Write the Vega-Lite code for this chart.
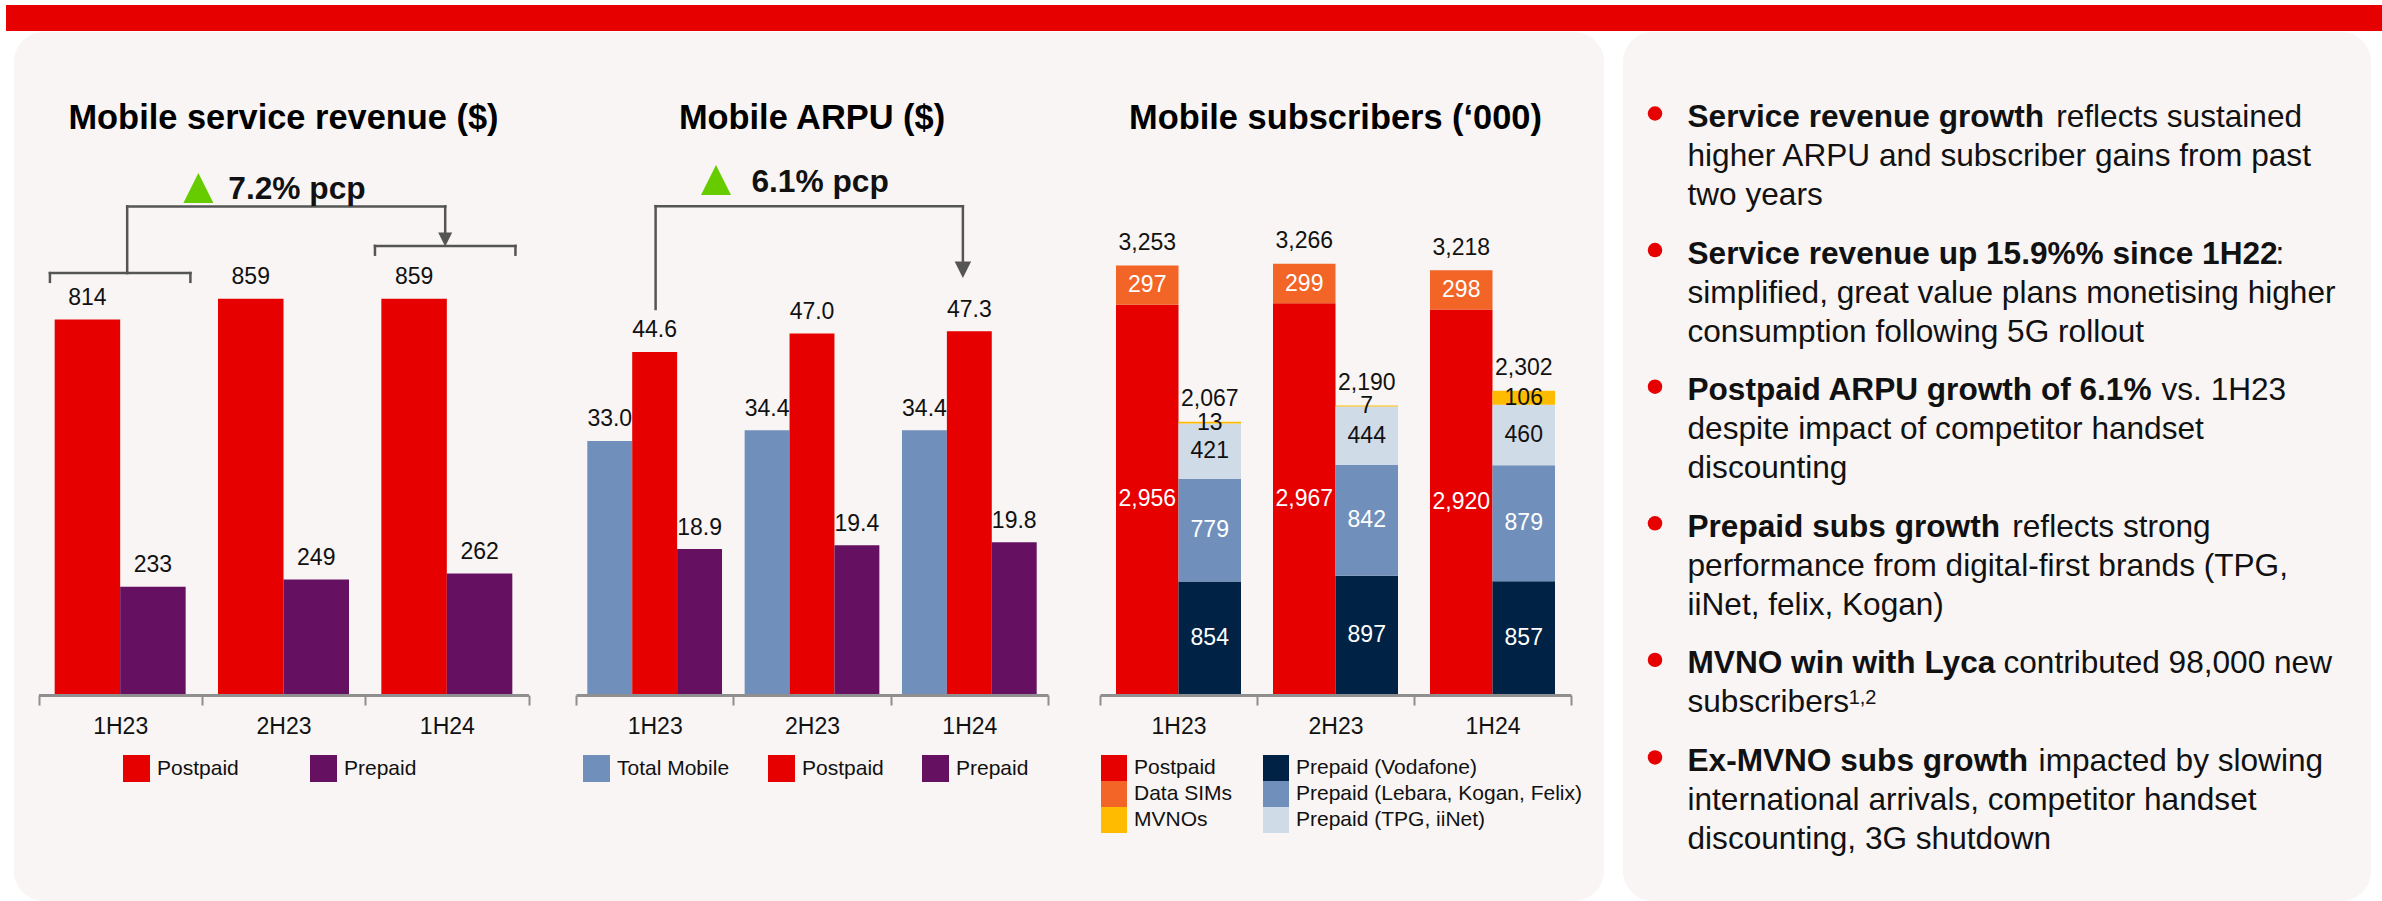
{
  "$schema": "https://vega.github.io/schema/vega-lite/v6.json",
  "background": "#FFFFFF",
  "padding": {"left": 5, "top": 4, "right": 0, "bottom": 2},
  "config": {
    "view": {"stroke": null},
    "font": "Liberation Sans",
    "text": {"font": "Liberation Sans"},
    "axis": {"labelFont": "Liberation Sans", "grid": false},
    "legend": {"labelFont": "Liberation Sans"}
  },
  "datasets": {
    "rev": [
      {"period": "1H23", "type": "Postpaid", "value": 814},
      {"period": "1H23", "type": "Prepaid", "value": 233},
      {"period": "2H23", "type": "Postpaid", "value": 859},
      {"period": "2H23", "type": "Prepaid", "value": 249},
      {"period": "1H24", "type": "Postpaid", "value": 859},
      {"period": "1H24", "type": "Prepaid", "value": 262}
    ],
    "arpu": [
      {"period": "1H23", "type": "Total Mobile", "value": 33.0},
      {"period": "1H23", "type": "Postpaid", "value": 44.6},
      {"period": "1H23", "type": "Prepaid", "value": 18.9},
      {"period": "2H23", "type": "Total Mobile", "value": 34.4},
      {"period": "2H23", "type": "Postpaid", "value": 47.0},
      {"period": "2H23", "type": "Prepaid", "value": 19.4},
      {"period": "1H24", "type": "Total Mobile", "value": 34.4},
      {"period": "1H24", "type": "Postpaid", "value": 47.3},
      {"period": "1H24", "type": "Prepaid", "value": 19.8}
    ],
    "subs": [
      {"period": "1H23", "group": "Postpaid and data SIMs", "segment": "Postpaid", "rank": 1, "value": 2956},
      {"period": "1H23", "group": "Postpaid and data SIMs", "segment": "Data SIMs", "rank": 2, "value": 297},
      {"period": "1H23", "group": "Prepaid and MVNOs", "segment": "Prepaid (Vodafone)", "rank": 1, "value": 854},
      {"period": "1H23", "group": "Prepaid and MVNOs", "segment": "Prepaid (Lebara, Kogan, Felix)", "rank": 2, "value": 779},
      {"period": "1H23", "group": "Prepaid and MVNOs", "segment": "Prepaid (TPG, iiNet)", "rank": 3, "value": 421},
      {"period": "1H23", "group": "Prepaid and MVNOs", "segment": "MVNOs", "rank": 4, "value": 13},
      {"period": "2H23", "group": "Postpaid and data SIMs", "segment": "Postpaid", "rank": 1, "value": 2967},
      {"period": "2H23", "group": "Postpaid and data SIMs", "segment": "Data SIMs", "rank": 2, "value": 299},
      {"period": "2H23", "group": "Prepaid and MVNOs", "segment": "Prepaid (Vodafone)", "rank": 1, "value": 897},
      {"period": "2H23", "group": "Prepaid and MVNOs", "segment": "Prepaid (Lebara, Kogan, Felix)", "rank": 2, "value": 842},
      {"period": "2H23", "group": "Prepaid and MVNOs", "segment": "Prepaid (TPG, iiNet)", "rank": 3, "value": 444},
      {"period": "2H23", "group": "Prepaid and MVNOs", "segment": "MVNOs", "rank": 4, "value": 7},
      {"period": "1H24", "group": "Postpaid and data SIMs", "segment": "Postpaid", "rank": 1, "value": 2920},
      {"period": "1H24", "group": "Postpaid and data SIMs", "segment": "Data SIMs", "rank": 2, "value": 298},
      {"period": "1H24", "group": "Prepaid and MVNOs", "segment": "Prepaid (Vodafone)", "rank": 1, "value": 857},
      {"period": "1H24", "group": "Prepaid and MVNOs", "segment": "Prepaid (Lebara, Kogan, Felix)", "rank": 2, "value": 879},
      {"period": "1H24", "group": "Prepaid and MVNOs", "segment": "Prepaid (TPG, iiNet)", "rank": 3, "value": 460},
      {"period": "1H24", "group": "Prepaid and MVNOs", "segment": "MVNOs", "rank": 4, "value": 106}
    ],
    "notes": [
      {"key": "1.1", "bold": "Service revenue growth", "normal": "\u200b\u00a0\u00a0\u00a0\u00a0\u00a0\u00a0\u00a0\u00a0\u00a0\u00a0\u00a0\u00a0\u00a0\u00a0\u00a0\u00a0\u00a0\u00a0\u00a0\u00a0\u00a0\u00a0\u00a0\u00a0\u00a0\u00a0\u00a0\u00a0\u00a0\u00a0\u00a0\u00a0\u00a0\u00a0\u00a0\u00a0\u00a0\u00a0\u00a0\u00a0\u00a0\u00a0reflects sustained"},
      {"key": "1.2", "bold": "", "normal": "higher ARPU and subscriber gains from past"},
      {"key": "1.3", "bold": "", "normal": "two years"},
      {"key": "2.1", "bold": "Service revenue up 15.9%% since 1H22", "normal": "\u200b\u00a0\u00a0\u00a0\u00a0\u00a0\u00a0\u00a0\u00a0\u00a0\u00a0\u00a0\u00a0\u00a0\u00a0\u00a0\u00a0\u00a0\u00a0\u00a0\u00a0\u00a0\u00a0\u00a0\u00a0\u00a0\u00a0\u00a0\u00a0\u00a0\u00a0\u00a0\u00a0\u00a0\u00a0\u00a0\u00a0\u00a0\u00a0\u00a0\u00a0\u00a0\u00a0\u00a0\u00a0\u00a0\u00a0\u00a0\u00a0\u00a0\u00a0\u00a0\u00a0\u00a0\u00a0\u00a0\u00a0\u00a0\u00a0\u00a0\u00a0\u00a0\u00a0\u00a0\u00a0\u00a0\u00a0\u00a0:"},
      {"key": "2.2", "bold": "", "normal": "simplified, great value plans monetising higher"},
      {"key": "2.3", "bold": "", "normal": "consumption following 5G rollout"},
      {"key": "3.1", "bold": "Postpaid ARPU growth of 6.1%", "normal": "\u200b\u00a0\u00a0\u00a0\u00a0\u00a0\u00a0\u00a0\u00a0\u00a0\u00a0\u00a0\u00a0\u00a0\u00a0\u00a0\u00a0\u00a0\u00a0\u00a0\u00a0\u00a0\u00a0\u00a0\u00a0\u00a0\u00a0\u00a0\u00a0\u00a0\u00a0\u00a0\u00a0\u00a0\u00a0\u00a0\u00a0\u00a0\u00a0\u00a0\u00a0\u00a0\u00a0\u00a0\u00a0\u00a0\u00a0\u00a0\u00a0\u00a0\u00a0\u00a0\u00a0\u00a0\u00a0vs. 1H23"},
      {"key": "3.2", "bold": "", "normal": "despite impact of competitor handset"},
      {"key": "3.3", "bold": "", "normal": "discounting"},
      {"key": "4.1", "bold": "Prepaid subs growth", "normal": "\u200b\u00a0\u00a0\u00a0\u00a0\u00a0\u00a0\u00a0\u00a0\u00a0\u00a0\u00a0\u00a0\u00a0\u00a0\u00a0\u00a0\u00a0\u00a0\u00a0\u00a0\u00a0\u00a0\u00a0\u00a0\u00a0\u00a0\u00a0\u00a0\u00a0\u00a0\u00a0\u00a0\u00a0\u00a0\u00a0\u00a0\u00a0reflects strong"},
      {"key": "4.2", "bold": "", "normal": "performance from digital-first brands (TPG,"},
      {"key": "4.3", "bold": "", "normal": "iiNet, felix, Kogan)"},
      {"key": "5.1", "bold": "MVNO win with Lyca", "normal": "\u200b\u00a0\u00a0\u00a0\u00a0\u00a0\u00a0\u00a0\u00a0\u00a0\u00a0\u00a0\u00a0\u00a0\u00a0\u00a0\u00a0\u00a0\u00a0\u00a0\u00a0\u00a0\u00a0\u00a0\u00a0\u00a0\u00a0\u00a0\u00a0\u00a0\u00a0\u00a0\u00a0\u00a0\u00a0\u00a0\u00a0contributed 98,000 new"},
      {"key": "5.2", "bold": "", "normal": "subscribers"},
      {"key": "6.1", "bold": "Ex-MVNO subs growth", "normal": "\u200b\u00a0\u00a0\u00a0\u00a0\u00a0\u00a0\u00a0\u00a0\u00a0\u00a0\u00a0\u00a0\u00a0\u00a0\u00a0\u00a0\u00a0\u00a0\u00a0\u00a0\u00a0\u00a0\u00a0\u00a0\u00a0\u00a0\u00a0\u00a0\u00a0\u00a0\u00a0\u00a0\u00a0\u00a0\u00a0\u00a0\u00a0\u00a0\u00a0\u00a0impacted by slowing"},
      {"key": "6.2", "bold": "", "normal": "international arrivals, competitor handset"},
      {"key": "6.3", "bold": "", "normal": "discounting, 3G shutdown"}
    ]
  },
  "spacing": 0,
  "vconcat": [
    {
      "width": 2377,
      "height": 26,
      "view": {"fill": "#E60000", "stroke": null},
      "data": {"values": [{}]},
      "mark": {"type": "rule", "opacity": 0},
      "encoding": {}
    },
    {
      "spacing": 7,
      "hconcat": [
        {
          "width": 1,
          "height": 869,
          "data": {"values": [{}]},
          "mark": {"type": "rule", "opacity": 0},
          "encoding": {}
        },
        {
          "spacing": 19,
          "hconcat": [
            {
              "width": 1590,
              "height": 869,
              "view": {"fill": "#F8F5F4", "stroke": null, "cornerRadius": 30},
              "resolve": {
                "scale": {"x": "independent", "y": "independent", "xOffset": "independent", "color": "independent"},
                "axis": {"x": "independent", "y": "independent"},
                "legend": {"color": "independent"}
              },
              "layer": [
                {
                  "data": {"name": "rev"},
                  "layer": [
                    {
                      "mark": {"type": "bar"},
                      "encoding": {
                        "x": {"field": "period", "type": "nominal", "sort": null,
                          "scale": {"domain": ["1H23", "2H23", "1H24"], "range": [24.5, 514.5], "paddingInner": 0, "paddingOuter": 0},
                          "axis": {"title": null, "orient": "bottom", "offset": -206, "labelAngle": 0, "labelFontSize": 23, "labelColor": "#111111", "labelPadding": 10, "domainColor": "#8F8F8F", "domainWidth": 3, "tickColor": "#8F8F8F", "tickWidth": 2, "tickSize": 10, "tickBand": "extent", "grid": false}},
                        "xOffset": {"field": "type", "type": "nominal", "scale": {"domain": ["Postpaid", "Prepaid"], "paddingInner": 0, "paddingOuter": 0.247}},
                        "y": {"field": "value", "type": "quantitative", "scale": {"domain": [-450, 1439.1], "nice": false, "zero": false}, "axis": null},
                        "color": {"field": "type", "type": "nominal",
                          "scale": {"domain": ["Postpaid", "Prepaid"], "range": ["#E60000", "#661062"]},
                          "legend": {"title": null, "orient": "none", "legendX": 109, "legendY": 723, "columns": 2, "columnPadding": 71, "rowPadding": 0, "symbolType": "square", "symbolSize": 729, "symbolStrokeWidth": 0, "labelFontSize": 21, "labelOffset": 7, "labelColor": "#111111", "labelLimit": 400, "padding": 0}}
                      }
                    },
                    {
                      "mark": {"type": "text", "baseline": "alphabetic", "dy": -14.5, "fontSize": 23, "color": "#111111"},
                      "encoding": {
                        "x": {"field": "period", "type": "nominal"},
                        "xOffset": {"field": "type", "type": "nominal"},
                        "y": {"field": "value", "type": "quantitative", "axis": null},
                        "text": {"field": "value", "type": "quantitative"}
                      }
                    },
                    {
                      "data": {"values": [{}]},
                      "mark": {"type": "rule", "color": "#555555", "strokeWidth": 2.5, "strokeCap": "square"},
                      "encoding": {
                        "x": {"datum": "1H23", "type": "nominal", "bandPosition": 0.543},
                        "x2": {"datum": "1H24", "bandPosition": 0.49},
                        "y": {"datum": 1060, "type": "quantitative", "axis": null}
                      }
                    },
                    {
                      "data": {"values": [{}]},
                      "mark": {"type": "rule", "color": "#555555", "strokeWidth": 2.5, "strokeCap": "square"},
                      "encoding": {
                        "x": {"datum": "1H23", "type": "nominal", "bandPosition": 0.543},
                        "y": {"datum": 1060, "type": "quantitative", "axis": null},
                        "y2": {"datum": 915}
                      }
                    },
                    {
                      "data": {"values": [{}]},
                      "mark": {"type": "rule", "color": "#555555", "strokeWidth": 2.5, "strokeCap": "square"},
                      "encoding": {
                        "x": {"datum": "1H23", "type": "nominal", "bandPosition": 0.07},
                        "x2": {"datum": "1H23", "bandPosition": 0.93},
                        "y": {"datum": 915, "type": "quantitative", "axis": null}
                      }
                    },
                    {
                      "data": {"values": [{}]},
                      "mark": {"type": "rule", "color": "#555555", "strokeWidth": 2.5, "strokeCap": "square"},
                      "encoding": {
                        "x": {"datum": "1H23", "type": "nominal", "bandPosition": 0.07},
                        "y": {"datum": 915, "type": "quantitative", "axis": null},
                        "y2": {"datum": 896}
                      }
                    },
                    {
                      "data": {"values": [{}]},
                      "mark": {"type": "rule", "color": "#555555", "strokeWidth": 2.5, "strokeCap": "square"},
                      "encoding": {
                        "x": {"datum": "1H23", "type": "nominal", "bandPosition": 0.93},
                        "y": {"datum": 915, "type": "quantitative", "axis": null},
                        "y2": {"datum": 896}
                      }
                    },
                    {
                      "data": {"values": [{}]},
                      "mark": {"type": "rule", "color": "#555555", "strokeWidth": 2.5, "strokeCap": "square"},
                      "encoding": {
                        "x": {"datum": "1H24", "type": "nominal", "bandPosition": 0.49},
                        "y": {"datum": 1060, "type": "quantitative", "axis": null},
                        "y2": {"datum": 995}
                      }
                    },
                    {
                      "data": {"values": [{}]},
                      "mark": {"type": "point", "shape": "M-1,-1L1,-1L0,1Z", "filled": true, "opacity": 1, "size": 196, "color": "#555555", "strokeWidth": 0},
                      "encoding": {
                        "x": {"datum": "1H24", "type": "nominal", "bandPosition": 0.49},
                        "y": {"datum": 988, "type": "quantitative", "axis": null}
                      }
                    },
                    {
                      "data": {"values": [{}]},
                      "mark": {"type": "rule", "color": "#555555", "strokeWidth": 2.5, "strokeCap": "square"},
                      "encoding": {
                        "x": {"datum": "1H24", "type": "nominal", "bandPosition": 0.06},
                        "x2": {"datum": "1H24", "bandPosition": 0.92},
                        "y": {"datum": 974, "type": "quantitative", "axis": null}
                      }
                    },
                    {
                      "data": {"values": [{}]},
                      "mark": {"type": "rule", "color": "#555555", "strokeWidth": 2.5, "strokeCap": "square"},
                      "encoding": {
                        "x": {"datum": "1H24", "type": "nominal", "bandPosition": 0.06},
                        "y": {"datum": 974, "type": "quantitative", "axis": null},
                        "y2": {"datum": 955}
                      }
                    },
                    {
                      "data": {"values": [{}]},
                      "mark": {"type": "rule", "color": "#555555", "strokeWidth": 2.5, "strokeCap": "square"},
                      "encoding": {
                        "x": {"datum": "1H24", "type": "nominal", "bandPosition": 0.92},
                        "y": {"datum": 974, "type": "quantitative", "axis": null},
                        "y2": {"datum": 955}
                      }
                    },
                    {
                      "data": {"values": [{}]},
                      "mark": {"type": "point", "shape": "M0,-1L1,1L-1,1Z", "filled": true, "opacity": 1, "size": 900, "color": "#66CC00", "strokeWidth": 0},
                      "encoding": {
                        "x": {"datum": "1H23", "type": "nominal", "bandPosition": 0.979},
                        "y": {"datum": 1100, "type": "quantitative", "axis": null}
                      }
                    },
                    {
                      "data": {"values": [{}]},
                      "mark": {"type": "text", "text": "7.2% pcp", "align": "left", "baseline": "alphabetic", "fontSize": 31.7, "fontWeight": "bold", "color": "#111111"},
                      "encoding": {
                        "x": {"datum": "2H23", "type": "nominal", "bandPosition": 0.162},
                        "y": {"datum": 1076, "type": "quantitative", "axis": null}
                      }
                    },
                    {
                      "data": {"values": [{}]},
                      "mark": {"type": "text", "text": "Mobile service revenue ($)", "align": "center", "baseline": "alphabetic", "fontSize": 34.4, "fontWeight": "bold", "color": "#000000"},
                      "encoding": {
                        "x": {"datum": "2H23", "type": "nominal", "bandPosition": 0.5},
                        "y": {"datum": 1227.6, "type": "quantitative", "axis": null}
                      }
                    }
                  ]
                },
                {
                  "data": {"name": "arpu"},
                  "layer": [
                    {
                      "mark": {"type": "bar"},
                      "encoding": {
                        "x": {"field": "period", "type": "nominal", "sort": null,
                          "scale": {"domain": ["1H23", "2H23", "1H24"], "range": [562, 1034], "paddingInner": 0, "paddingOuter": 0},
                          "axis": {"title": null, "orient": "bottom", "offset": -206, "labelAngle": 0, "labelFontSize": 23, "labelColor": "#111111", "labelPadding": 10, "domainColor": "#8F8F8F", "domainWidth": 3, "tickColor": "#8F8F8F", "tickWidth": 2, "tickSize": 10, "tickBand": "extent", "grid": false}},
                        "xOffset": {"field": "type", "type": "nominal", "scale": {"domain": ["Total Mobile", "Postpaid", "Prepaid"], "paddingInner": 0, "paddingOuter": 0.252}},
                        "y": {"field": "value", "type": "quantitative", "scale": {"domain": [-26.99, 86.31], "nice": false, "zero": false}, "axis": null},
                        "color": {"field": "type", "type": "nominal",
                          "scale": {"domain": ["Total Mobile", "Postpaid", "Prepaid"], "range": ["#7090BB", "#E60000", "#661062"]},
                          "legend": {"title": null, "orient": "none", "legendX": 569, "legendY": 723, "columns": 3, "columnPadding": 38, "rowPadding": 0, "symbolType": "square", "symbolSize": 729, "symbolStrokeWidth": 0, "labelFontSize": 21, "labelOffset": 7, "labelColor": "#111111", "labelLimit": 400, "padding": 0}}
                      }
                    },
                    {
                      "mark": {"type": "text", "baseline": "alphabetic", "dy": -14.5, "fontSize": 23, "color": "#111111"},
                      "encoding": {
                        "x": {"field": "period", "type": "nominal"},
                        "xOffset": {"field": "type", "type": "nominal"},
                        "y": {"field": "value", "type": "quantitative", "axis": null},
                        "text": {"field": "value", "type": "quantitative", "format": ".1f"}
                      }
                    },
                    {
                      "data": {"values": [{}]},
                      "mark": {"type": "rule", "color": "#555555", "strokeWidth": 2.5, "strokeCap": "square"},
                      "encoding": {
                        "x": {"datum": "1H23", "type": "nominal", "bandPosition": 0.506},
                        "x2": {"datum": "1H24", "bandPosition": 0.459},
                        "y": {"datum": 63.6, "type": "quantitative", "axis": null}
                      }
                    },
                    {
                      "data": {"values": [{}]},
                      "mark": {"type": "rule", "color": "#555555", "strokeWidth": 2.5, "strokeCap": "square"},
                      "encoding": {
                        "x": {"datum": "1H23", "type": "nominal", "bandPosition": 0.506},
                        "y": {"datum": 63.6, "type": "quantitative", "axis": null},
                        "y2": {"datum": 50.2}
                      }
                    },
                    {
                      "data": {"values": [{}]},
                      "mark": {"type": "rule", "color": "#555555", "strokeWidth": 2.5, "strokeCap": "square"},
                      "encoding": {
                        "x": {"datum": "1H24", "type": "nominal", "bandPosition": 0.459},
                        "y": {"datum": 63.6, "type": "quantitative", "axis": null},
                        "y2": {"datum": 56.5}
                      }
                    },
                    {
                      "data": {"values": [{}]},
                      "mark": {"type": "point", "shape": "M-1,-1L1,-1L0,1Z", "filled": true, "opacity": 1, "size": 272, "color": "#555555", "strokeWidth": 0},
                      "encoding": {
                        "x": {"datum": "1H24", "type": "nominal", "bandPosition": 0.459},
                        "y": {"datum": 55.3, "type": "quantitative", "axis": null}
                      }
                    },
                    {
                      "data": {"values": [{}]},
                      "mark": {"type": "point", "shape": "M0,-1L1,1L-1,1Z", "filled": true, "opacity": 1, "size": 900, "color": "#66CC00", "strokeWidth": 0},
                      "encoding": {
                        "x": {"datum": "1H23", "type": "nominal", "bandPosition": 0.89},
                        "y": {"datum": 67.0, "type": "quantitative", "axis": null}
                      }
                    },
                    {
                      "data": {"values": [{}]},
                      "mark": {"type": "text", "text": "6.1% pcp", "align": "left", "baseline": "alphabetic", "fontSize": 31.7, "fontWeight": "bold", "color": "#111111"},
                      "encoding": {
                        "x": {"datum": "2H23", "type": "nominal", "bandPosition": 0.115},
                        "y": {"datum": 65.45, "type": "quantitative", "axis": null}
                      }
                    },
                    {
                      "data": {"values": [{}]},
                      "mark": {"type": "text", "text": "Mobile ARPU ($)", "align": "center", "baseline": "alphabetic", "fontSize": 34.4, "fontWeight": "bold", "color": "#000000"},
                      "encoding": {
                        "x": {"datum": "2H23", "type": "nominal", "bandPosition": 0.5},
                        "y": {"datum": 73.66, "type": "quantitative", "axis": null}
                      }
                    }
                  ]
                },
                {
                  "data": {"name": "subs"},
                  "layer": [
                    {
                      "mark": {"type": "bar"},
                      "encoding": {
                        "x": {"field": "period", "type": "nominal", "sort": null,
                          "scale": {"domain": ["1H23", "2H23", "1H24"], "range": [1086, 1557], "paddingInner": 0, "paddingOuter": 0},
                          "axis": {"title": null, "orient": "bottom", "offset": -206, "labelAngle": 0, "labelFontSize": 23, "labelColor": "#111111", "labelPadding": 10, "domainColor": "#8F8F8F", "domainWidth": 3, "tickColor": "#8F8F8F", "tickWidth": 2, "tickSize": 10, "tickBand": "extent", "grid": false}},
                        "xOffset": {"field": "group", "type": "nominal", "scale": {"domain": ["Postpaid and data SIMs", "Prepaid and MVNOs"], "paddingInner": 0, "paddingOuter": 0.256}},
                        "y": {"field": "value", "type": "quantitative", "stack": "zero", "scale": {"domain": [-1571.8, 5026.6], "nice": false, "zero": false}, "axis": null},
                        "order": {"field": "rank", "type": "quantitative", "sort": "ascending"},
                        "color": {"field": "segment", "type": "nominal",
                          "scale": {"domain": ["Postpaid", "Data SIMs", "MVNOs", "Prepaid (Vodafone)", "Prepaid (Lebara, Kogan, Felix)", "Prepaid (TPG, iiNet)"], "range": ["#E60000", "#F26526", "#FFBB00", "#002244", "#7090BB", "#D0DBE8"]},
                          "legend": {"title": null, "orient": "none", "legendX": 1087, "legendY": 723, "columns": 2, "columnPadding": 30, "rowPadding": 0, "symbolType": "square", "symbolSize": 676, "symbolStrokeWidth": 0, "labelFontSize": 21, "labelOffset": 7, "labelColor": "#111111", "labelLimit": 400, "padding": 0}}
                      }
                    },
                    {
                      "mark": {"type": "text", "baseline": "middle", "fontSize": 23},
                      "encoding": {
                        "x": {"field": "period", "type": "nominal"},
                        "xOffset": {"field": "group", "type": "nominal"},
                        "y": {"field": "value", "type": "quantitative", "stack": "zero", "bandPosition": 0.5, "axis": null},
                        "order": {"field": "rank", "type": "quantitative", "sort": "ascending"},
                        "detail": {"field": "segment", "type": "nominal"},
                        "text": {"field": "value", "type": "quantitative", "format": ","},
                        "color": {"condition": {"test": "datum.segment === 'Prepaid (TPG, iiNet)' || datum.segment === 'MVNOs'", "value": "#111111"}, "value": "#FFFFFF"}
                      }
                    },
                    {
                      "mark": {"type": "text", "baseline": "alphabetic", "dy": -15.5, "fontSize": 23, "color": "#111111"},
                      "encoding": {
                        "x": {"field": "period", "type": "nominal"},
                        "xOffset": {"field": "group", "type": "nominal"},
                        "y": {"aggregate": "sum", "field": "value", "type": "quantitative", "axis": null},
                        "text": {"aggregate": "sum", "field": "value", "type": "quantitative", "format": ","}
                      }
                    },
                    {
                      "data": {"values": [{}]},
                      "mark": {"type": "text", "text": "Mobile subscribers (\u2018000)", "align": "center", "baseline": "alphabetic", "fontSize": 34.4, "fontWeight": "bold", "color": "#000000"},
                      "encoding": {
                        "x": {"datum": "2H23", "type": "nominal", "bandPosition": 0.5},
                        "y": {"datum": 4290, "type": "quantitative", "axis": null}
                      }
                    }
                  ]
                }
              ]
            },
            {
              "width": 748,
              "height": 869,
              "view": {"fill": "#F8F5F4", "stroke": null, "cornerRadius": 30},
              "data": {"name": "notes"},
              "layer": [
                {
                  "transform": [{"filter": "datum.bold != ''"}],
                  "mark": {"type": "point", "shape": "circle", "filled": true, "opacity": 1, "size": 210, "color": "#E60000", "strokeWidth": 0},
                  "encoding": {
                    "x": {"datum": "dot", "type": "nominal", "scale": {"type": "point", "domain": ["dot", "text"], "range": [32, 64.5], "padding": 0}, "axis": null},
                    "y": {"field": "key", "type": "nominal", "axis": null,
                      "scale": {"type": "point", "padding": 0, "range": [81.5, 803.5],
                        "domain": ["1.1", "1.1+", "1.2", "1.2+", "1.3", "1.3+", "1.3++", "2.1", "2.1+", "2.2", "2.2+", "2.3", "2.3+", "2.3++", "3.1", "3.1+", "3.2", "3.2+", "3.3", "3.3+", "3.3++", "4.1", "4.1+", "4.2", "4.2+", "4.3", "4.3+", "4.3++", "5.1", "5.1+", "5.2", "5.2+", "5.2++", "6.1", "6.1+", "6.2", "6.2+", "6.3"]}}
                  }
                },
                {
                  "mark": {"type": "text", "align": "left", "baseline": "alphabetic", "dy": 13.5, "fontSize": 31.6, "color": "#111111"},
                  "encoding": {
                    "x": {"datum": "text", "type": "nominal", "axis": null},
                    "y": {"field": "key", "type": "nominal", "axis": null},
                    "text": {"field": "normal", "type": "nominal"}
                  }
                },
                {
                  "transform": [{"filter": "datum.bold != ''"}],
                  "mark": {"type": "text", "align": "left", "baseline": "alphabetic", "dy": 13.5, "fontSize": 31.6, "fontWeight": "bold", "color": "#111111"},
                  "encoding": {
                    "x": {"datum": "text", "type": "nominal", "axis": null},
                    "y": {"field": "key", "type": "nominal", "axis": null},
                    "text": {"field": "bold", "type": "nominal"}
                  }
                },
                {
                  "data": {"values": [{"key": "5.2", "sup": "\u200b\u00a0\u00a0\u00a0\u00a0\u00a0\u00a0\u00a0\u00a0\u00a0\u00a0\u00a0\u00a0\u00a0\u00a0\u00a0\u00a0\u00a0\u00a0\u00a0\u00a0\u00a0\u00a0\u00a0\u00a0\u00a0\u00a0\u00a0\u00a0\u00a01,2"}]},
                  "mark": {"type": "text", "align": "left", "baseline": "alphabetic", "dy": 5.5, "fontSize": 20, "color": "#111111"},
                  "encoding": {
                    "x": {"datum": "text", "type": "nominal", "axis": null},
                    "y": {"field": "key", "type": "nominal", "axis": null},
                    "text": {"field": "sup", "type": "nominal"}
                  }
                }
              ]
            }
          ]
        }
      ]
    }
  ]
}
